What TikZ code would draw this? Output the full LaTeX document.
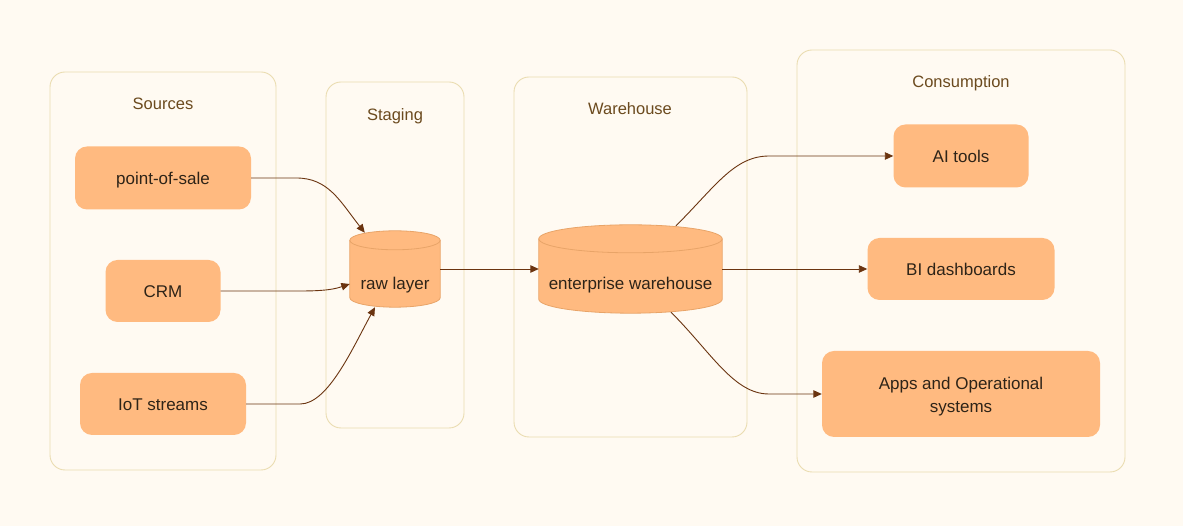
\documentclass[tikz,border=0pt]{standalone}
\usepackage{fontspec}
\setmainfont{Liberation Sans}
\usetikzlibrary{arrows.meta,calc}
\definecolor{bgc}{HTML}{FFFAF2}
\definecolor{clb}{HTML}{EADCB0}
\definecolor{nfill}{HTML}{FFBA80}
\definecolor{nline}{HTML}{E8A468}
\definecolor{ttl}{HTML}{6B4A1E}
\definecolor{ntext}{HTML}{2E2418}
\definecolor{arr}{HTML}{6B3410}
\newcommand\drawcyl[2]{%
  \path let \p1=(#1.north west), \p2=(#1.south east), \n1={(\x2-\x1)/2} in
    [fill=nfill, draw=nline, line width=0.8pt]
    (\x1,\y1-#2pt) -- (\x1,\y2+#2pt)
    arc[start angle=180, end angle=360, x radius=\n1, y radius=#2pt]
    -- (\x2,\y1-#2pt)
    arc[start angle=0, end angle=180, x radius=\n1, y radius=#2pt] -- cycle;
  \path let \p1=(#1.north west), \p2=(#1.south east), \n1={(\x2-\x1)/2} in
    [draw=nline, line width=0.8pt]
    (\x1,\y1-#2pt) arc[start angle=180, end angle=360, x radius=\n1, y radius=#2pt];
}
\begin{document}
\begin{tikzpicture}[x=1pt,y=1pt,
  cluster/.style={draw=clb, line width=0.9pt, rounded corners=15pt},
  ctitle/.style={text=ttl, font=\fontsize{16.5}{20}\selectfont, inner sep=0pt,
    text height=12pt, text depth=0pt},
  box/.style={fill=nfill, rounded corners=12pt, text=ntext, inner sep=0pt,
    font=\fontsize{17}{23}\selectfont, align=center},
  onebox/.style={box, text height=12.5pt, text depth=0pt},
  cylbox/.style={inner sep=0pt, draw=none},
  ctext/.style={text=ntext, inner sep=0pt, font=\fontsize{17}{21}\selectfont,
    text height=12.5pt, text depth=0pt},
  edge/.style={draw=arr, line width=0.9pt, -{Triangle[length=8.5pt,width=7.5pt]}}
]
\useasboundingbox (0,0) rectangle (1183,526);
\fill[bgc] (0,0) rectangle (1183,526);

% clusters
\draw[cluster] (50,56) rectangle (276,454);
\draw[cluster] (326,98) rectangle (464,444);
\draw[cluster] (514,89) rectangle (747,449);
\draw[cluster] (797,54) rectangle (1125,476);
\node[ctitle] (tsrc) at (163,422) {Sources};
\node[ctitle] (tstg) at (395,411) {Staging};
\node[ctitle] (twh) at (630,417) {Warehouse};
\node[ctitle] (tcon) at (961,444) {Consumption};

% source nodes
\node[onebox, minimum width=176pt, minimum height=63pt] (pos) at (163,348) {point-of-sale};
\node[onebox, minimum width=115pt, minimum height=62pt] (crm) at (163,235) {CRM};
\node[onebox, minimum width=166pt, minimum height=62pt] (iot) at (163,122) {IoT streams};

% cylinders
\node[cylbox, minimum width=90pt, minimum height=76pt] (raw) at (395,257) {};
\drawcyl{raw}{9.5}
\node[ctext] (rawt) at ($(raw.center)+(0,-14)$) {raw layer};
\node[cylbox, minimum width=183pt, minimum height=88pt] (ent) at (630.5,257) {};
\drawcyl{ent}{14}
\node[ctext] (entt) at ($(ent.center)+(0,-14)$) {enterprise warehouse};

% consumption nodes
\node[onebox, minimum width=135pt, minimum height=63pt] (ai) at (961,370) {AI tools};
\node[onebox, minimum width=187pt, minimum height=62pt] (bi) at (961,257) {BI dashboards};
\node[box, minimum width=278pt, minimum height=86pt] (apps) at (961,132) {\rule{0pt}{18pt}Apps and Operational\\systems};

% edges
\draw[edge] (pos.east) -- ++(45,0) .. controls +(32,0) and +(-25,32) .. ($(raw.north west)+(15,-2)$);
\draw[edge] (crm.east) -- ++(80,0) .. controls +(25,0) and +(-15,-5) .. ($(raw.west)+(0,-15)$);
\draw[edge] (iot.east) -- ++(54,0) .. controls +(28,0) and +(-22,-40) .. ($(raw.south)+(-20,0)$);
\draw[edge] (raw.east) -- (raw.east -| ent.west);
\draw[edge] ($(ent.north)+(45.5,-1)$) .. controls +(40,40) and +(-35,0) .. ($(ai.west)+(-124,0)$) -- (ai.west);
\draw[edge] (ent.east) -- (ent.east -| bi.west);
\draw[edge] ($(ent.south)+(40.5,1)$) .. controls +(40,-40) and +(-35,0) .. ($(apps.west)+(-53,0)$) -- (apps.west);
\end{tikzpicture}
\end{document}
